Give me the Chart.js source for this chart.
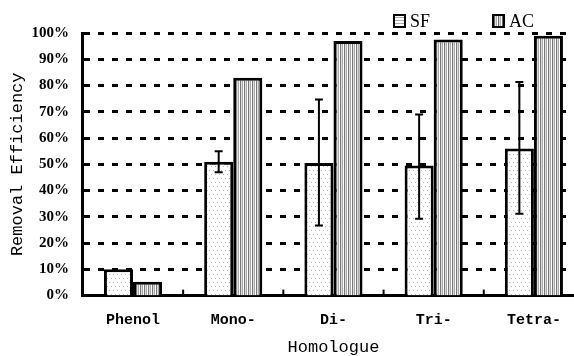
<!DOCTYPE html>
<html>
<head>
<meta charset="utf-8">
<script src="https://cdn.jsdelivr.net/npm/chart.js@4/dist/chart.umd.min.js"></script>
<style>
  html, body { margin: 0; padding: 0; background: #fff; overflow: hidden; }
  #wrap { position: relative; width: 584px; height: 356px; }
  .legend { position: absolute; top: 11px; font: 18px "Liberation Serif", serif; color: #000; }
  .legend span.box { display: inline-block; width: 9px; height: 10px; border: 2px solid #000; vertical-align: -1px; margin-right: 4px; }
  #lgSF { left: 393px; }
  #lgAC { left: 492px; }
  #lgSF .box { background: repeating-linear-gradient(0deg, #fff 0 2px, #aaa 2px 3px); }
  #lgAC .box { background: repeating-linear-gradient(90deg, #666 0 1px, #ddd 1px 2px, #aaa 2px 3px, #fff 3px 4px); }
</style>
</head>
<body>
<div id="wrap">
  <canvas id="chart" width="584" height="356"></canvas>
  <div class="legend" id="lgSF"><span class="box"></span>SF</div>
  <div class="legend" id="lgAC"><span class="box"></span>AC</div>
</div>
<script>
const CATEGORIES = ["Phenol", "Mono-", "Di-", "Tri-", "Tetra-"];
const SF_VALUES = [10, 51, 50.5, 49.5, 56];
const AC_VALUES = [5.3, 83, 97, 97.5, 99];
const SF_ERR_LOW = [null, 47, 26.7, 29.3, 31.2];
const SF_ERR_HIGH = [null, 55, 74.7, 69, 81.3];

function makePattern(w, h, draw) {
  const c = document.createElement("canvas");
  c.width = w;
  c.height = h;
  const g = c.getContext("2d");
  g.fillStyle = "#fff";
  g.fillRect(0, 0, w, h);
  draw(g);
  return document.getElementById("chart").getContext("2d").createPattern(c, "repeat");
}

// light dotted fill for SF
const sfPattern = makePattern(8, 8, (g) => {
  g.fillStyle = "#b8b8b8";
  g.fillRect(1, 2, 1, 1);
  g.fillRect(5, 2, 1, 1);
  g.fillRect(3, 6, 1, 1);
  g.fillRect(7, 6, 1, 1);
});

// vertical line fill for AC
const acPattern = makePattern(4, 4, (g) => {
  g.fillStyle = "#777";
  g.fillRect(0, 0, 1, 4);
  g.fillStyle = "#ddd";
  g.fillRect(1, 0, 1, 4);
  g.fillStyle = "#aaa";
  g.fillRect(2, 0, 1, 4);
});

const errorBars = {
  id: "errorBars",
  afterDatasetsDraw(chart) {
    const ctx = chart.ctx;
    const y = chart.scales.y;
    const meta = chart.getDatasetMeta(0);
    ctx.save();
    ctx.strokeStyle = "#000";
    ctx.lineWidth = 2;
    meta.data.forEach((bar, i) => {
      if (SF_ERR_LOW[i] == null) return;
      const yl = y.getPixelForValue(SF_ERR_LOW[i]);
      const yh = y.getPixelForValue(SF_ERR_HIGH[i]);
      ctx.beginPath();
      ctx.moveTo(bar.x, yl);
      ctx.lineTo(bar.x, yh);
      ctx.moveTo(bar.x - 4, yl);
      ctx.lineTo(bar.x + 4, yl);
      ctx.moveTo(bar.x - 4, yh);
      ctx.lineTo(bar.x + 4, yh);
      ctx.stroke();
    });
    ctx.restore();
  },
};

// small upward ticks between categories on the x axis
const xTicks = {
  id: "xTicks",
  afterDraw(chart) {
    const ctx = chart.ctx;
    const x = chart.scales.x;
    const bottom = chart.chartArea.bottom;
    ctx.save();
    ctx.strokeStyle = "#000";
    ctx.lineWidth = 2;
    for (let i = 1; i < CATEGORIES.length; i++) {
      const px = (x.getPixelForValue(i - 1) + x.getPixelForValue(i)) / 2;
      ctx.beginPath();
      ctx.moveTo(px, bottom);
      ctx.lineTo(px, bottom - 6);
      ctx.stroke();
    }
    ctx.restore();
  },
};

new Chart(document.getElementById("chart"), {
  type: "bar",
  data: {
    labels: CATEGORIES,
    datasets: [
      {
        label: "SF",
        data: SF_VALUES,
        backgroundColor: sfPattern,
        borderColor: "#000",
        borderWidth: 3,
        borderSkipped: "bottom",
        categoryPercentage: 0.58,
        barPercentage: 1,
      },
      {
        label: "AC",
        data: AC_VALUES,
        backgroundColor: acPattern,
        borderColor: "#000",
        borderWidth: 3,
        borderSkipped: "bottom",
        categoryPercentage: 0.58,
        barPercentage: 1,
      },
    ],
  },
  options: {
    responsive: false,
    animation: false,
    layout: { padding: { top: 33, left: -3, right: 0, bottom: -2 } },
    plugins: {
      legend: { display: false },
      tooltip: { enabled: false },
    },
    scales: {
      y: {
        min: 0,
        max: 100,
        ticks: {
          stepSize: 10,
          padding: 14,
          color: "#000",
          font: { family: "Liberation Serif", size: 15, weight: "bold" },
          callback: (v) => v + "%",
        },
        grid: {
          color: "#000",
          lineWidth: (c) => (c.tick && c.tick.value === 0 ? 0 : 3),
          drawTicks: false,
        },
        border: { color: "#000", width: 3, dash: [6, 8], dashOffset: 0 },
        title: {
          display: true,
          text: "Removal Efficiency",
          color: "#000",
          font: { family: "Liberation Mono", size: 17 },
          padding: { top: 10, bottom: -10 },
        },
      },
      x: {
        ticks: {
          color: "#000",
          padding: 16,
          font: { family: "Liberation Mono", size: 15, weight: "bold" },
        },
        grid: { display: false, drawTicks: false },
        border: { color: "#000", width: 3 },
        title: {
          display: true,
          text: "Homologue",
          color: "#000",
          font: { family: "Liberation Mono", size: 17 },
          padding: { top: -8, bottom: 0 },
        },
      },
    },
  },
  plugins: [errorBars, xTicks],
});
</script>
</body>
</html>
